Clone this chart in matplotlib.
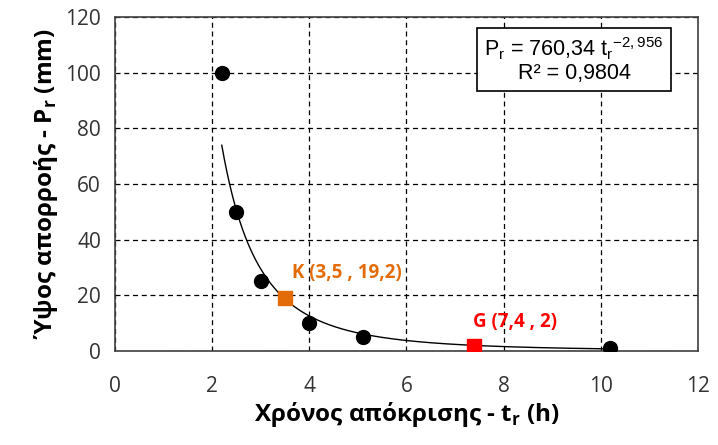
import numpy as np
import matplotlib
matplotlib.use('Agg')
import matplotlib.pyplot as plt

plt.rcParams['font.family'] = ['Open Sans', 'Noto Sans', 'DejaVu Sans']
plt.rcParams['mathtext.fontset'] = 'custom'
plt.rcParams['mathtext.rm'] = 'Open Sans'
plt.rcParams['mathtext.bf'] = 'Open Sans:bold'

# observed points
t_obs = [2.2, 2.5, 3.0, 4.0, 5.1, 10.2]
p_obs = [100, 50, 25, 10, 5, 1]

# fitted power law Pr = a * tr^b
a_fit = 760.34
b_fit = -2.956
t_fit_range = [2.2, 10.2]

# special points
k_pt = (3.5, 19.2)
g_pt = (7.4, 2.0)

fig = plt.figure(figsize=(7.18, 4.45), dpi=100)
ax = fig.add_axes([0.160, 0.211, 0.812, 0.751])

t_curve = np.linspace(t_fit_range[0], t_fit_range[1], 300)
ax.plot(t_curve, a_fit * t_curve ** b_fit, color='black', lw=1.0, zorder=2)

ax.plot(t_obs, p_obs, 'o', color='black', markersize=10, zorder=3)
ax.plot(k_pt[0], k_pt[1], 's', color='#E36C09', markersize=10, zorder=4)
ax.plot(g_pt[0], g_pt[1], 's', color='#FF0000', markersize=10, zorder=4)

ax.text(k_pt[0] + 0.15, k_pt[1] + 7, 'K (3,5 , 19,2)', color='#E36C09',
        fontsize=13.5, fontweight='bold')
ax.text(g_pt[0] - 0.02, g_pt[1] + 6.5, 'G (7,4 , 2)', color='#FF0000',
        fontsize=13.5, fontweight='bold')

ax.set_xlim(0, 12)
ax.set_ylim(0, 120)
ax.set_xticks(np.arange(0, 13, 2))
ax.set_yticks(np.arange(0, 121, 20))
ax.grid(True, color='black', linestyle='--', linewidth=0.9, dashes=(4, 3))
ax.set_axisbelow(True)
ax.tick_params(labelsize=15, colors='#333333', length=0)
ax.tick_params(axis='x', pad=18)
ax.tick_params(axis='y', pad=10)
for s in ax.spines.values():
    s.set_color('#404040')
    s.set_linewidth(1.2)

ax.set_xlabel(r'Χρόνος απόκρισης - t$_{\mathbf{r}}$ (h)', fontsize=17.5,
              fontweight='bold', labelpad=2)
ax.set_ylabel(r'Ύψος απορροής - P$_{\mathbf{r}}$ (mm)', fontsize=17.5,
              fontweight='bold', labelpad=4)

eq = 'P$_\\mathregular{r}$ = 760,34 t$_\\mathregular{r}$$^\\mathregular{-2,956}$\nR² = 0,9804'
ax.text(9.45, 104.6, eq, ha='center', va='center', fontsize=15.5,
        family=['Liberation Sans', 'DejaVu Sans'], linespacing=1.05,
        bbox=dict(boxstyle='square,pad=0.35', facecolor='white', edgecolor='black', lw=1.2),
        zorder=5)

fig.savefig('out.png', dpi=100)
